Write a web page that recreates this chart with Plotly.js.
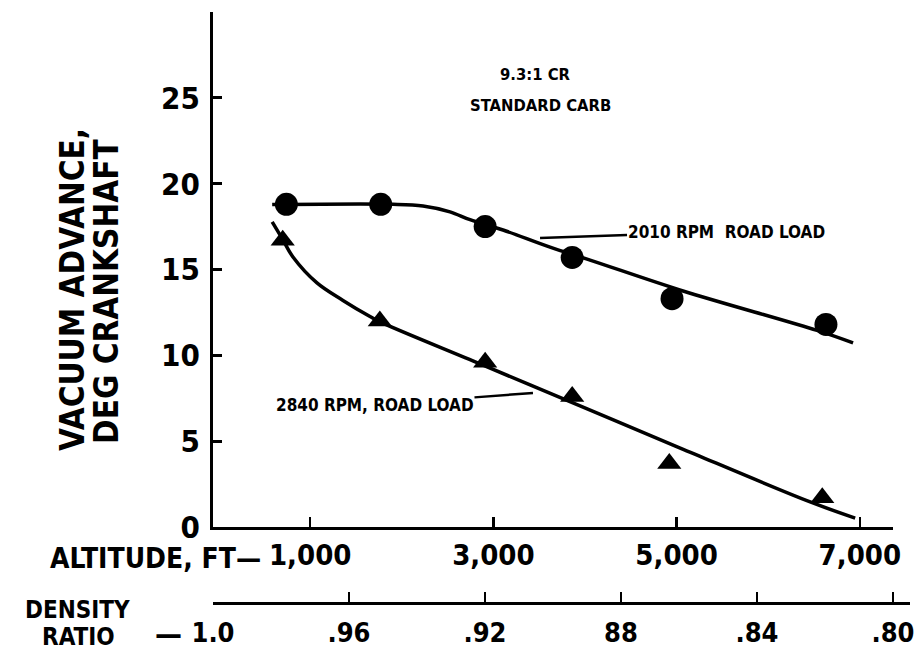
<!DOCTYPE html>
<html>
<head>
<meta charset="utf-8">
<script src="https://cdn.plot.ly/plotly-3.0.1.min.js"></script>
<style>
  html, body { margin: 0; padding: 0; background: #ffffff; }
  #chart { width: 920px; height: 652px; }
</style>
</head>
<body>
<div id="chart"></div>
<script>
// ---- Data ----
// Altitude (ft) of measured points and vacuum advance (deg crankshaft)
const rpm2010Altitude = [740, 1770, 2910, 3860, 4950, 6630];
const rpm2010Advance  = [18.8, 18.8, 17.5, 15.7, 13.3, 11.8];

const rpm2840Altitude = [700, 1760, 2910, 3860, 4920, 6590];
const rpm2840Advance  = [16.7, 12.0, 9.6, 7.6, 3.7, 1.7];

// Hand-faired curves traced through the picture
const curve2010Altitude = [585, 1904, 2232, 2526, 2745, 3105, 3618, 4055, 5070, 6533, 6926];
const curve2010Advance  = [18.78, 18.8, 18.7, 18.36, 17.9, 17.3, 16.3, 15.55, 13.75, 11.45, 10.72];

const curve2840Altitude = [585, 703, 812, 1074, 1358, 1653, 1762, 2855, 3946, 5039, 6458, 6949];
const curve2840Advance  = [17.77, 16.72, 15.73, 14.22, 13.2, 12.26, 11.95, 9.5, 7.05, 4.6, 1.46, 0.52];

// Axis ticks
const altitudeTicks = [1000, 3000, 5000, 7000];
const altitudeTickText = ['1,000', '3,000', '5,000', '7,000'];
const advanceTicks = [0, 5, 10, 15, 20, 25];
const densityTicks = [1.0, 0.96, 0.92, 0.88, 0.84, 0.80];
const densityTickText = ['1.0', '.96', '.92', '88', '.84', '.80'];

// ---- Styling ----
const BOLD = 'DejaVu Sans Condensed, DejaVu Sans, sans-serif';
const NARROW = 'Liberation Sans Narrow, DejaVu Sans Condensed, sans-serif';
const INK = '#000000';

const traces = [
  {
    x: curve2010Altitude, y: curve2010Advance, mode: 'lines',
    line: { color: INK, width: 3.5, shape: 'spline', smoothing: 1 },
    hoverinfo: 'skip', showlegend: false
  },
  {
    x: curve2840Altitude, y: curve2840Advance, mode: 'lines',
    line: { color: INK, width: 3.5, shape: 'spline', smoothing: 1 },
    hoverinfo: 'skip', showlegend: false
  },
  {
    x: rpm2010Altitude, y: rpm2010Advance, mode: 'markers', name: '2010 RPM ROAD LOAD',
    marker: { symbol: 'circle', size: 23, color: INK },
    showlegend: false
  },
  {
    x: rpm2840Altitude, y: rpm2840Advance, mode: 'markers', name: '2840 RPM, ROAD LOAD',
    marker: { symbol: 'triangle-up', size: 21, color: INK },
    showlegend: false
  },
  {
    // anchor trace for the density-ratio scale
    x: [densityTicks[0]], y: [null], xaxis: 'x2', yaxis: 'y', mode: 'markers',
    marker: { opacity: 0 }, hoverinfo: 'skip', showlegend: false
  }
];

const pw = 699, ph = 598, L = 213, T = 12;
function px(p) { return (p - L) / pw; }
function py(p) { return (T + ph - p) / ph; }

function label(text, cx, cy, size, family, extra) {
  return Object.assign({
    text: text, xref: 'paper', yref: 'paper', x: px(cx), y: py(cy),
    xanchor: 'center', yanchor: 'middle', showarrow: false,
    font: { family: family, size: size, color: INK, weight: 'bold' }
  }, extra || {});
}

const annotations = [
  label('VACUUM ADVANCE,', 72, 290, 33, BOLD, { textangle: -90 }),
  label('DEG CRANKSHAFT', 106, 291, 33, BOLD, { textangle: -90 }),
  label('ALTITUDE, FT\u2014', 263, 558, 28, BOLD, { xanchor: 'right' }),
  label('DENSITY', 77, 610, 24, BOLD),
  label('RATIO', 78, 637, 24, BOLD),
  label('\u2014', 168, 633, 30, BOLD),
  label('9.3:1 CR', 535, 74, 16.5, NARROW),
  label('STANDARD CARB', 540, 105, 16.5, NARROW),
  { text: '2010 RPM&nbsp;&nbsp;ROAD LOAD', xref: 'x', yref: 'y', x: 3509, y: 16.84,
    ax: 186, ay: -6, showarrow: true, arrowhead: 0, arrowwidth: 2.5, arrowcolor: INK,
    standoff: 0, startstandoff: 0, borderpad: 0,
    font: { family: NARROW, size: 17, color: INK, weight: 'bold' } },
  { text: '2840 RPM, ROAD LOAD', xref: 'x', yref: 'y', x: 3432, y: 7.81,
    ax: -158, ay: 12, showarrow: true, arrowhead: 0, arrowwidth: 2.5, arrowcolor: INK,
    standoff: 0, startstandoff: 0, borderpad: 0,
    font: { family: NARROW, size: 17, color: INK, weight: 'bold' } }
];

const layout = {
  width: 920, height: 652,
  margin: { l: L, r: 920 - L - pw, t: T, b: 652 - T - ph },
  paper_bgcolor: '#ffffff', plot_bgcolor: 'rgba(0,0,0,0)',
  showlegend: false,
  font: { family: BOLD, color: INK },
  xaxis: {
    range: [-61, 7362], domain: [0, (893 - L) / pw], anchor: 'y',
    showline: true, linewidth: 3, linecolor: INK, mirror: false,
    ticks: 'inside', ticklen: 10, tickwidth: 2.5, tickcolor: INK,
    tickvals: altitudeTicks, ticktext: altitudeTickText,
    tickfont: { family: BOLD, size: 29, color: INK, weight: 'bold' },
    ticklabelstandoff: 0,
    showgrid: false, zeroline: false, fixedrange: true
  },
  xaxis2: {
    range: [1.0, 0.795], domain: [0, 697 / pw], anchor: 'free', position: py(603),
    side: 'bottom',
    showline: true, linewidth: 3, linecolor: INK,
    ticks: 'inside', ticklen: 10, tickwidth: 2.5, tickcolor: INK,
    tickvals: densityTicks, ticktext: densityTickText,
    tickfont: { family: BOLD, size: 27, color: INK, weight: 'bold' },
    ticklabelstandoff: 5,
    showgrid: false, zeroline: false, fixedrange: true
  },
  yaxis: {
    range: [0, 30], domain: [py(527), 1], anchor: 'x',
    showline: true, linewidth: 3, linecolor: INK,
    ticks: 'inside', ticklen: 9, tickwidth: 3, tickcolor: INK,
    tickvals: advanceTicks,
    tickfont: { family: BOLD, size: 31, color: INK, weight: 'bold' },
    ticklabelstandoff: 4,
    showgrid: false, zeroline: false, fixedrange: true
  },
  annotations: annotations
};

Plotly.newPlot('chart', traces, layout, { displayModeBar: false, staticPlot: true });
</script>
</body>
</html>
